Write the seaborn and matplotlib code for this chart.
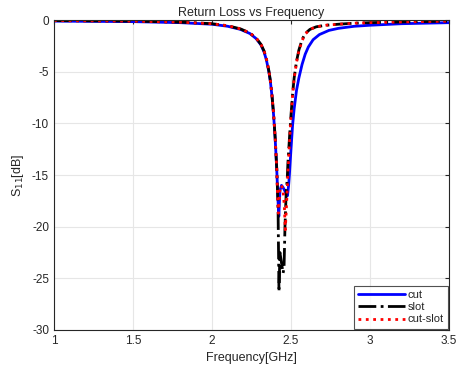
import numpy as np
import pandas as pd
import matplotlib
matplotlib.use("Agg")
import matplotlib.pyplot as plt
import seaborn as sns

# ---------------- values ----------------
freq_cut = [1.0, 1.5, 1.8, 2.0, 2.1, 2.18, 2.24, 2.28, 2.31, 2.33, 2.345, 2.36, 2.37, 2.38, 2.39, 2.40, 2.41, 2.418, 2.423,
            2.43, 2.44, 2.45, 2.46, 2.47, 2.478, 2.485, 2.49, 2.50, 2.51, 2.52, 2.535, 2.55, 2.57, 2.59, 2.61, 2.64,
            2.68, 2.74, 2.8, 2.9, 3.0, 3.2, 3.5]
s11_cut = [-0.1, -0.15, -0.25, -0.4, -0.6, -0.9, -1.3, -1.8, -2.4, -3.1, -3.9, -5.0, -6.0, -7.4, -9.2, -11.5, -14.5, -17.5, -19.0,
           -16.5, -16.0, -16.2, -16.5, -16.8, -17.0, -16.0, -15.0, -12.5, -10.2, -8.6, -6.8, -5.6, -4.3, -3.3, -2.6, -1.9,
           -1.4, -1.0, -0.8, -0.6, -0.5, -0.35, -0.25]

freq_slot = [1.0, 1.5, 1.8, 2.0, 2.1, 2.18, 2.24, 2.28, 2.31, 2.33, 2.345, 2.36, 2.37, 2.38, 2.39, 2.40, 2.41, 2.418, 2.424,
             2.43, 2.44, 2.45, 2.456, 2.462, 2.47, 2.476, 2.48, 2.49, 2.50, 2.51, 2.52, 2.535, 2.55, 2.57, 2.59, 2.62,
             2.66, 2.72, 2.8, 2.9, 3.0, 3.2, 3.5]
s11_slot = [-0.05, -0.1, -0.2, -0.35, -0.55, -0.85, -1.25, -1.75, -2.35, -3.0, -3.8, -4.9, -5.9, -7.3, -9.1, -11.4, -14.4, -18.0, -26.3,
            -22.5, -23.5, -24.5, -24.0, -20.0, -16.5, -15.5, -14.0, -11.5, -9.2, -7.2, -5.6, -4.0, -2.9, -1.9, -1.3, -0.9,
            -0.65, -0.5, -0.4, -0.3, -0.25, -0.18, -0.1]

freq_cutslot = [1.0, 1.5, 1.8, 2.0, 2.1, 2.18, 2.24, 2.28, 2.31, 2.33, 2.345, 2.36, 2.37, 2.38, 2.39, 2.40, 2.41, 2.415, 2.42,
                2.43, 2.44, 2.45, 2.458, 2.464, 2.47, 2.476, 2.48, 2.49, 2.50, 2.51, 2.52, 2.535, 2.55, 2.57, 2.59, 2.62,
                2.66, 2.72, 2.8, 2.9, 3.0, 3.2, 3.5]
s11_cutslot = [-0.05, -0.1, -0.2, -0.35, -0.55, -0.85, -1.25, -1.75, -2.35, -3.0, -3.8, -4.9, -5.9, -7.3, -9.1, -11.4, -14.4, -17.0, -18.7,
               -16.5, -16.0, -16.5, -18.0, -20.3, -18.5, -16.5, -15.0, -12.0, -9.4, -7.3, -5.7, -4.1, -3.0, -2.0, -1.35, -0.9,
               -0.65, -0.5, -0.4, -0.3, -0.25, -0.18, -0.1]

xticks = [1, 1.5, 2, 2.5, 3, 3.5]
yticks = [0, -5, -10, -15, -20, -25, -30]

#--------------- build a long table for seaborn ---------------
df = pd.concat([
    pd.DataFrame({"f": freq_cut, "s11": s11_cut, "name": "cut"}),
    pd.DataFrame({"f": freq_slot, "s11": s11_slot, "name": "slot"}),
    pd.DataFrame({"f": freq_cutslot, "s11": s11_cutslot, "name": "cut-slot"}),
])

sns.set_style("whitegrid")
plt.rcParams['font.family'] = ['Liberation Sans', 'DejaVu Sans']
plt.rcParams['axes.unicode_minus'] = False

fig = plt.figure(figsize=(4.61, 3.72), dpi=100)
ax = fig.add_axes([0.117, 0.113, 0.857, 0.833])

styles = {"cut": ("#0000ff", "-"), "slot": ("black", "-."), "cut-slot": ("#ff0000", ":")}
for name in ["cut", "slot", "cut-slot"]:
    sub = df[df["name"] == name]
    col, ls = styles[name]
    sns.lineplot(data=sub, x="f", y="s11", ax=ax, color=col, linestyle=ls,
                 linewidth=2, label=name, sort=False)

ax.set_xlim(1, 3.5)
ax.set_ylim(-30, 0)
ax.set_xticks(xticks)
ax.set_xticklabels([f"{t:g}" for t in xticks])
ax.set_yticks(yticks)
ax.grid(True, color="#e6e6e6", linewidth=0.8)
for sp in ax.spines.values():
    sp.set_color("#262626")
    sp.set_linewidth(0.8)
ax.tick_params(direction="in", length=3, labelsize=8.5, colors="#262626", top=True, right=True)

ax.set_xlabel("Frequency[GHz]", fontsize=9)
ax.set_ylabel("S$_{11}$[dB]", fontsize=9)
ax.set_title("Return Loss vs Frequency", fontsize=9, pad=3)

leg = ax.legend(loc="lower right", fontsize=8, frameon=True, fancybox=False,
                borderaxespad=0.1, handlelength=4.2, handletextpad=0.2, labelspacing=0.2)
leg.get_frame().set_edgecolor("#262626")
leg.get_frame().set_linewidth(0.8)

plt.savefig("out.png", dpi=100)
